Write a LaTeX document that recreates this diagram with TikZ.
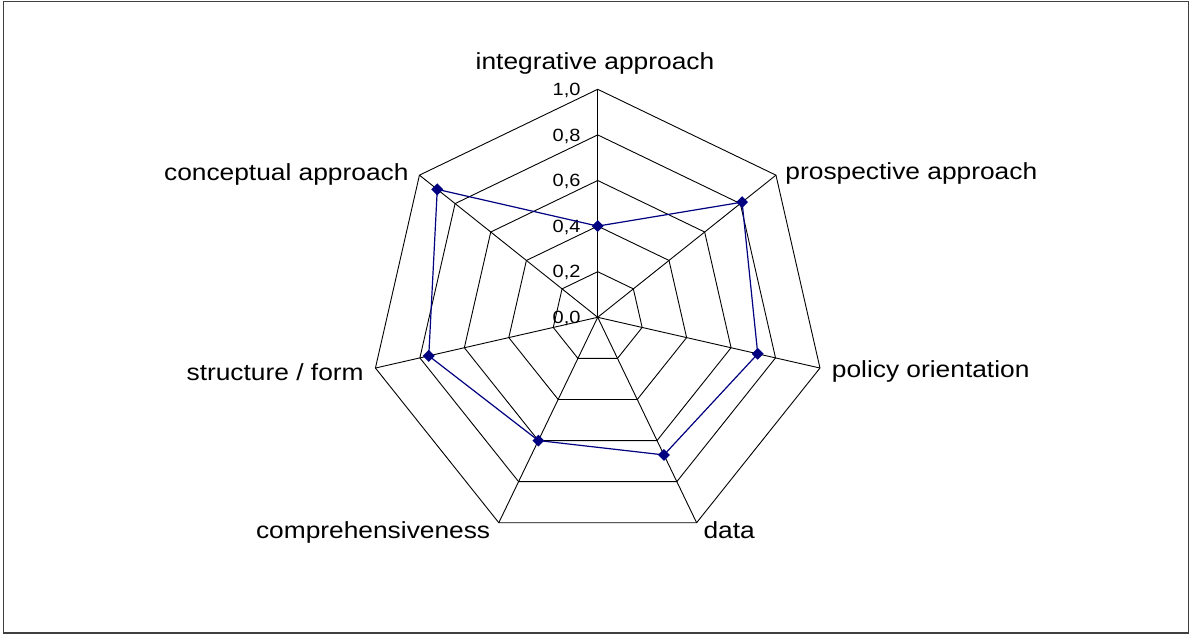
\documentclass[tikz,border=0pt]{standalone}
\usepackage{fontspec}
\setmainfont[FakeStretch=1.13]{Liberation Sans}
\usepackage{tikz}
\usepackage{xcolor}
\usetikzlibrary{calc, positioning, shapes.geometric}
\definecolor{seriesblue}{RGB}{0,0,128}
\definecolor{framegray}{RGB}{64,64,64}
\tikzset{
    gridline/.style={draw=black, line width=0.9pt},
    series/.style={draw=seriesblue, line width=1.2pt, line join=round},
    datamark/.style={diamond, fill=seriesblue, inner sep=0pt, minimum width=12pt, minimum height=12pt},
    axislabel/.style={inner sep=0pt, font=\fontsize{23.3}{28}\selectfont},
    ticklabel/.style={inner sep=0pt, font=\fontsize{17.7}{21}\selectfont},
    framebox/.style={draw=framegray, line width=1.6pt}
}
\newcommand{\spoke}[6]{
    \coordinate (#1-o) at ($(c) + (#2:228)$);
    \coordinate (#1-v) at ($(c) + ({#2}:{#3*228})$);
    \draw[gridline] (c) -- (#1-o);
    \node[axislabel, anchor=#4] (#1-l) at ($(#1-o) + (#5)$) {#6};
}
\newcommand{\webring}[1]{
    \draw[gridline]
    ($(c) + (90:#1)$) -- ($(c) + (38.57:#1)$) -- ($(c) + (-12.86:#1)$) -- ($(c) + (-64.29:#1)$) -- ($(c) + (-115.71:#1)$) -- ($(c) + (-167.14:#1)$) -- ($(c) + (141.43:#1)$) -- cycle;
}
\newcommand{\scalelabel}[3]{
    \node[ticklabel, anchor=base east] (#1) at ($(c) + (-17, #2*228 - 6.3)$) {#3};
}

\begin{document}
\begin{tikzpicture}[x=1pt, y=1pt]
                        \useasboundingbox (0, 0) rectangle (1191, 635);
                        \draw[framebox] (3.3, 2.2) rectangle (1188.3, 633.3);
                        \coordinate (c) at (597.7, 317.7);
                        \webring{45.6}
                        \webring{91.2}
                        \webring{136.8}
                        \webring{182.4}
                        \webring{228}
                        \spoke{ia}{90}{0.4}{base}{-2.7, 19.6}{integrative approach}
                        \spoke{pa}{38.57}{0.81}{base west}{9.3, -4.3}{prospective approach}
                        \spoke{po}{-12.86}{0.72}{base west}{11.7, -9.3}{policy orientation}
                        \spoke{da}{-64.29}{0.67}{base west}{6.7, -15.6}{data}
                        \spoke{co}{-115.71}{0.6}{base east}{-8.4, -15.6}{comprehensiveness}
                        \spoke{sf}{-167.14}{0.76}{base east}{-11.6, -12.7}{structure / form}
                        \spoke{ca}{141.43}{0.9}{base east}{-10.7, -5.3}{conceptual approach}
                        \scalelabel{s0}{0}{0,0}
                        \scalelabel{s2}{0.2}{0,2}
                        \scalelabel{s4}{0.4}{0,4}
                        \scalelabel{s6}{0.6}{0,6}
                        \scalelabel{s8}{0.8}{0,8}
                        \scalelabel{s10}{1}{1,0}
                        \draw[series]
                        (ia-v) -- (pa-v) -- (po-v) -- (da-v) -- (co-v) -- (sf-v) -- (ca-v) -- cycle;
                        \node[datamark] (ia-m) at (ia-v) {};
                        \node[datamark] (pa-m) at (pa-v) {};
                        \node[datamark] (po-m) at (po-v) {};
                        \node[datamark] (da-m) at (da-v) {};
                        \node[datamark] (co-m) at (co-v) {};
                        \node[datamark] (sf-m) at (sf-v) {};
                        \node[datamark] (ca-m) at (ca-v) {};
                    \end{tikzpicture}
\end{document}
